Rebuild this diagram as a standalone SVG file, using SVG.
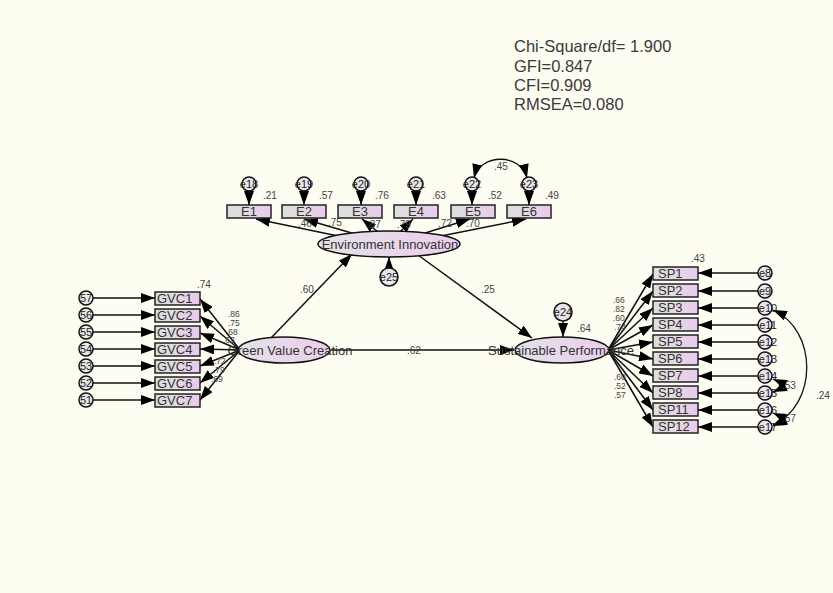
<svg xmlns="http://www.w3.org/2000/svg" width="833" height="593" viewBox="0 0 833 593">
<defs>
<linearGradient id="bx" x1="0" y1="0" x2="1" y2="0">
<stop offset="0" stop-color="#dedede"/><stop offset="0.45" stop-color="#e2dbe2"/><stop offset="1" stop-color="#ebc9eb"/>
</linearGradient>
<linearGradient id="el" x1="0" y1="0" x2="1" y2="0">
<stop offset="0" stop-color="#e4e2e8"/><stop offset="1" stop-color="#ebcdeb"/>
</linearGradient>
<marker id="ah" markerUnits="userSpaceOnUse" markerWidth="14" markerHeight="10" refX="14" refY="5" orient="auto-start-reverse">
<path d="M0,0 L14,5 L0,10 z" fill="#000"/>
</marker>
<style>
.t{font-family:"Liberation Sans",Arial,sans-serif;fill:#333}
.stat{font-size:16.5px;fill:#3a3a3a}
.lbl{font-size:13px}
.num{font-size:10px;fill:#444}
.sm{font-size:8.5px}
.box{fill:url(#bx);stroke:#222;stroke-width:1.5}
.ell{fill:url(#el);stroke:#111;stroke-width:1.5}
.err{fill:#e8e6ea;stroke:#111;stroke-width:1.5}
.ln{stroke:#111;stroke-width:1.5;fill:none;marker-end:url(#ah)}
.cv{stroke:#111;stroke-width:1.3;fill:none;marker-end:url(#ah);marker-start:url(#ah)}
.et{font-size:11px;fill:#222;text-anchor:middle}
</style>
</defs>
<rect width="833" height="593" fill="#fdfdf1"/>

<g id="fit" class="t stat">
<text x="514" y="52">Chi-Square/df= 1.900</text>
<text x="514" y="72">GFI=0.847</text>
<text x="514" y="91">CFI=0.909</text>
<text x="514" y="110">RMSEA=0.080</text>
</g>

<g id="connectors">
<line class="ln" x1="343" y1="237" x2="256" y2="219"/>
<line class="ln" x1="355" y1="234" x2="304" y2="219"/>
<line class="ln" x1="378" y1="232" x2="362" y2="219"/>
<line class="ln" x1="400" y1="232" x2="413" y2="219"/>
<line class="ln" x1="422" y1="234" x2="470" y2="219"/>
<line class="ln" x1="436" y1="237" x2="526" y2="219"/>
<line class="ln" x1="249" y1="190" x2="249" y2="205"/>
<line class="ln" x1="304" y1="190" x2="304" y2="205"/>
<line class="ln" x1="361" y1="190" x2="361" y2="205"/>
<line class="ln" x1="416" y1="190" x2="416" y2="205"/>
<line class="ln" x1="472" y1="190" x2="472" y2="205"/>
<line class="ln" x1="529" y1="190" x2="529" y2="205"/>
<path class="cv" d="M474,178 C480,153 521,153 527,178"/>
<line class="ln" x1="389" y1="268" x2="389" y2="257"/>
<line class="ln" x1="270" y1="339" x2="352" y2="254"/>
<line class="ln" x1="418" y1="255" x2="532" y2="338"/>
<line class="ln" x1="331" y1="350" x2="514" y2="350"/>
<line class="ln" x1="563" y1="321" x2="563" y2="337"/>
<line class="ln" x1="240" y1="350" x2="200" y2="299"/>
<line class="ln" x1="240" y1="350" x2="200" y2="316"/>
<line class="ln" x1="240" y1="350" x2="200" y2="333"/>
<line class="ln" x1="240" y1="350" x2="200" y2="349"/>
<line class="ln" x1="240" y1="350" x2="200" y2="366"/>
<line class="ln" x1="240" y1="350" x2="200" y2="383"/>
<line class="ln" x1="240" y1="350" x2="200" y2="400"/>
<line class="ln" x1="93" y1="298" x2="155" y2="298"/>
<line class="ln" x1="93" y1="315" x2="155" y2="315"/>
<line class="ln" x1="93" y1="332" x2="155" y2="332"/>
<line class="ln" x1="93" y1="349" x2="155" y2="349"/>
<line class="ln" x1="93" y1="366" x2="155" y2="366"/>
<line class="ln" x1="93" y1="383" x2="155" y2="383"/>
<line class="ln" x1="93" y1="400" x2="155" y2="400"/>
<line class="ln" x1="608" y1="350" x2="653" y2="274"/>
<line class="ln" x1="608" y1="350" x2="653" y2="291"/>
<line class="ln" x1="608" y1="350" x2="653" y2="308"/>
<line class="ln" x1="608" y1="350" x2="653" y2="325"/>
<line class="ln" x1="608" y1="350" x2="653" y2="342"/>
<line class="ln" x1="608" y1="350" x2="653" y2="359"/>
<line class="ln" x1="608" y1="350" x2="653" y2="376"/>
<line class="ln" x1="608" y1="350" x2="653" y2="393"/>
<line class="ln" x1="608" y1="350" x2="653" y2="410"/>
<line class="ln" x1="608" y1="350" x2="653" y2="427"/>
<line class="ln" x1="758" y1="273" x2="698" y2="273"/>
<line class="ln" x1="758" y1="291" x2="698" y2="291"/>
<line class="ln" x1="758" y1="308" x2="698" y2="308"/>
<line class="ln" x1="758" y1="325" x2="698" y2="325"/>
<line class="ln" x1="758" y1="342" x2="698" y2="342"/>
<line class="ln" x1="758" y1="359" x2="698" y2="359"/>
<line class="ln" x1="758" y1="376" x2="698" y2="376"/>
<line class="ln" x1="758" y1="393" x2="698" y2="393"/>
<line class="ln" x1="758" y1="410" x2="698" y2="410"/>
<line class="ln" x1="758" y1="427" x2="698" y2="427"/>
<path class="cv" d="M773,310 C818,330 818,405 773,425"/>
<path class="cv" d="M773,379 C782,383 782,388 773,392"/>
<path class="cv" d="M773,413 C782,417 782,422 773,426"/>
</g>

<g id="E1"><rect class="box" x="227" y="205" width="44" height="13"/><text class="t lbl" x="249" y="216" text-anchor="middle">E1</text></g>
<g id="E2"><rect class="box" x="282" y="205" width="44" height="13"/><text class="t lbl" x="304" y="216" text-anchor="middle">E2</text></g>
<g id="E3"><rect class="box" x="338" y="205" width="44" height="13"/><text class="t lbl" x="360" y="216" text-anchor="middle">E3</text></g>
<g id="E4"><rect class="box" x="394" y="205" width="44" height="13"/><text class="t lbl" x="416" y="216" text-anchor="middle">E4</text></g>
<g id="E5"><rect class="box" x="451" y="205" width="44" height="13"/><text class="t lbl" x="473" y="216" text-anchor="middle">E5</text></g>
<g id="E6"><rect class="box" x="507" y="205" width="44" height="13"/><text class="t lbl" x="529" y="216" text-anchor="middle">E6</text></g>

<g id="e18"><circle class="err" cx="249" cy="184" r="7"/><text class="t et" x="249" y="188">e18</text></g>
<g id="e19"><circle class="err" cx="304" cy="184" r="7"/><text class="t et" x="304" y="188">e19</text></g>
<g id="e20"><circle class="err" cx="361" cy="184" r="7"/><text class="t et" x="361" y="188">e20</text></g>
<g id="e21"><circle class="err" cx="416" cy="184" r="7"/><text class="t et" x="416" y="188">e21</text></g>
<g id="e22"><circle class="err" cx="472" cy="184" r="7"/><text class="t et" x="472" y="188">e22</text></g>
<g id="e23"><circle class="err" cx="529" cy="184" r="7"/><text class="t et" x="529" y="188">e23</text></g>

<g id="labels-top" class="t num">
<text x="263" y="199">.21</text>
<text x="319" y="199">.57</text>
<text x="375" y="199">.76</text>
<text x="432" y="199">.63</text>
<text x="488" y="199">.52</text>
<text x="545" y="199">.49</text>
<text x="494" y="170">.45</text>
<text x="298" y="227">.46</text>
<text x="328" y="226">.75</text>
<text x="367" y="228">.87</text>
<text x="397" y="228">.79</text>
<text x="438" y="227">.72</text>
<text x="466" y="227">.70</text>
</g>

<g id="EI"><ellipse class="ell" cx="389" cy="244" rx="71" ry="13"/><text class="t lbl" x="390" y="249" text-anchor="middle">Environment Innovation</text></g>
<g id="e25"><circle class="err" cx="389" cy="277" r="9"/><text class="t et" x="389" y="281">e25</text></g>

<g id="GVC"><ellipse class="ell" cx="284" cy="350" rx="46" ry="13"/><text class="t lbl" x="290" y="355" text-anchor="middle">Green Value Creation</text></g>
<g id="SP"><ellipse class="ell" cx="562" cy="350" rx="47" ry="13"/><text class="t lbl" x="561" y="355" text-anchor="middle">Sustainable Performance</text></g>
<g id="e24"><circle class="err" cx="563" cy="312" r="9"/><text class="t et" x="563" y="316">e24</text></g>

<g id="path-labels" class="t num">
<text x="300" y="293">.60</text>
<text x="481" y="293">.25</text>
<text x="407" y="354">.62</text>
<text x="577" y="332">.64</text>
<text x="197" y="288">.74</text>
<text x="691" y="262">.43</text>
<text x="782" y="389">.53</text>
<text x="782" y="422">.57</text>
<text x="816" y="399">.24</text>
</g>
<g id="stacked-labels" class="t num sm">
<text x="228" y="317">.86</text>
<text x="228" y="326">.75</text>
<text x="226" y="335">.68</text>
<text x="223" y="343">.63</text>
<text x="214" y="364">.72</text>
<text x="213" y="373">.79</text>
<text x="211" y="382">.69</text>
<text x="613" y="303">.66</text>
<text x="613" y="312">.82</text>
<text x="613" y="321">.60</text>
<text x="614" y="330">.74</text>
<text x="614" y="380">.60</text>
<text x="614" y="389">.52</text>
<text x="614" y="398">.57</text>
</g>

<g id="GVC1"><rect class="box" x="155" y="292" width="45" height="13"/><text class="t lbl" x="157" y="303">GVC1</text></g>
<g id="GVC2"><rect class="box" x="155" y="309" width="45" height="13"/><text class="t lbl" x="157" y="320">GVC2</text></g>
<g id="GVC3"><rect class="box" x="155" y="326" width="45" height="13"/><text class="t lbl" x="157" y="337">GVC3</text></g>
<g id="GVC4"><rect class="box" x="155" y="343" width="45" height="13"/><text class="t lbl" x="157" y="354">GVC4</text></g>
<g id="GVC5"><rect class="box" x="155" y="360" width="45" height="13"/><text class="t lbl" x="157" y="371">GVC5</text></g>
<g id="GVC6"><rect class="box" x="155" y="377" width="45" height="13"/><text class="t lbl" x="157" y="388">GVC6</text></g>
<g id="GVC7"><rect class="box" x="155" y="394" width="45" height="13"/><text class="t lbl" x="157" y="405">GVC7</text></g>

<g id="e57"><circle class="err" cx="86" cy="298" r="7"/><text class="t et" x="86" y="302">57</text></g>
<g id="e56"><circle class="err" cx="86" cy="315" r="7"/><text class="t et" x="86" y="319">56</text></g>
<g id="e55"><circle class="err" cx="86" cy="332" r="7"/><text class="t et" x="86" y="336">55</text></g>
<g id="e54"><circle class="err" cx="86" cy="349" r="7"/><text class="t et" x="86" y="353">54</text></g>
<g id="e53"><circle class="err" cx="86" cy="366" r="7"/><text class="t et" x="86" y="370">53</text></g>
<g id="e52"><circle class="err" cx="86" cy="383" r="7"/><text class="t et" x="86" y="387">52</text></g>
<g id="e51"><circle class="err" cx="86" cy="400" r="7"/><text class="t et" x="86" y="404">51</text></g>

<g id="SP1"><rect class="box" x="653" y="267" width="45" height="13"/><text class="t lbl" x="658" y="278">SP1</text></g>
<g id="SP2"><rect class="box" x="653" y="284" width="45" height="13"/><text class="t lbl" x="658" y="295">SP2</text></g>
<g id="SP3"><rect class="box" x="653" y="301" width="45" height="13"/><text class="t lbl" x="658" y="312">SP3</text></g>
<g id="SP4"><rect class="box" x="653" y="318" width="45" height="13"/><text class="t lbl" x="658" y="329">SP4</text></g>
<g id="SP5"><rect class="box" x="653" y="335" width="45" height="13"/><text class="t lbl" x="658" y="346">SP5</text></g>
<g id="SP6"><rect class="box" x="653" y="352" width="45" height="13"/><text class="t lbl" x="658" y="363">SP6</text></g>
<g id="SP7"><rect class="box" x="653" y="369" width="45" height="13"/><text class="t lbl" x="658" y="380">SP7</text></g>
<g id="SP8"><rect class="box" x="653" y="386" width="45" height="13"/><text class="t lbl" x="658" y="397">SP8</text></g>
<g id="SP11"><rect class="box" x="653" y="403" width="45" height="13"/><text class="t lbl" x="658" y="414">SP11</text></g>
<g id="SP12"><rect class="box" x="653" y="420" width="45" height="13"/><text class="t lbl" x="658" y="431">SP12</text></g>

<g id="e8"><circle class="err" cx="765" cy="273" r="7"/><text class="t et" x="765" y="277">e8</text></g>
<g id="e9"><circle class="err" cx="765" cy="291" r="7"/><text class="t et" x="765" y="295">e9</text></g>
<g id="e10"><circle class="err" cx="765" cy="308" r="7"/><text class="t et" x="768" y="312">e10</text></g>
<g id="e11"><circle class="err" cx="765" cy="325" r="7"/><text class="t et" x="768" y="329">e11</text></g>
<g id="e12"><circle class="err" cx="765" cy="342" r="7"/><text class="t et" x="768" y="346">e12</text></g>
<g id="e13"><circle class="err" cx="765" cy="359" r="7"/><text class="t et" x="768" y="363">e13</text></g>
<g id="e14"><circle class="err" cx="765" cy="376" r="7"/><text class="t et" x="768" y="380">e14</text></g>
<g id="e15"><circle class="err" cx="765" cy="393" r="7"/><text class="t et" x="768" y="397">e15</text></g>
<g id="e16"><circle class="err" cx="765" cy="410" r="7"/><text class="t et" x="768" y="414">e16</text></g>
<g id="e17"><circle class="err" cx="765" cy="427" r="7"/><text class="t et" x="768" y="431">e17</text></g>
</svg>
